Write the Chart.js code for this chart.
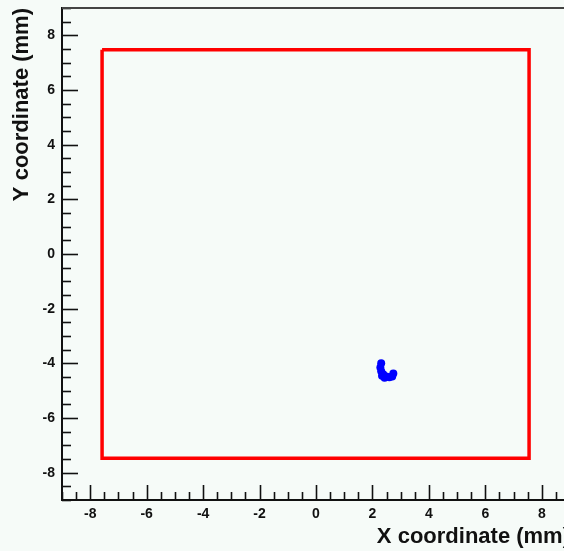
<!DOCTYPE html>
<html lang="en">
<head>
<meta charset="UTF-8">
<title>XY coordinates</title>
<script src="https://cdn.jsdelivr.net/npm/chart.js"></script>
<style>
    html, body { margin: 0; padding: 0; overflow: hidden; background: #f6fbf8; }
    #wrap { width: 580px; height: 551px; }
</style>
</head>
<body>
<div id="wrap"><canvas id="xyChart" width="580" height="551"></canvas></div>
<script>
    // detector outline (mm)
    var frameX = [-7.58, 7.55, 7.55, -7.58, -7.58];
    var frameY = [7.47, 7.47, -7.47, -7.47, 7.47];

    // reconstructed hit positions (mm)
    var hitX = [2.31, 2.28, 2.31, 2.38, 2.49, 2.60, 2.70, 2.74, 2.34, 2.43];
    var hitY = [-4.00, -4.15, -4.29, -4.40, -4.48, -4.51, -4.48, -4.37, -4.45, -4.53];

    var xTicks = [-8, -6, -4, -2, 0, 2, 4, 6, 8];
    var yTicks = [-8, -6, -4, -2, 0, 2, 4, 6, 8];

    function toPoints(xs, ys) {
        var pts = [];
        for (var i = 0; i < xs.length; i++) pts.push({ x: xs[i], y: ys[i] });
        return pts;
    }

    const bgColor = '#f6fbf8';

    // ROOT style frame: inward tick marks + top line
    const rootFrame = {
        id: 'rootFrame',
        beforeDraw(chart) {
            const c = chart.ctx;
            c.save();
            c.fillStyle = bgColor;
            c.fillRect(0, 0, chart.width, chart.height);
            c.restore();
        },
        afterDraw(chart) {
            const c = chart.ctx;
            const a = chart.chartArea;
            const sx = chart.scales.x, sy = chart.scales.y;
            c.save();
            c.strokeStyle = '#111';
            c.lineWidth = 1.6;
            for (var v = -9; v <= 9.001; v += 0.5) {
                var major = Math.abs(v % 2) < 1e-6;
                var px = Math.round(sx.getPixelForValue(v)) + 0.5;
                c.beginPath();
                c.moveTo(px, a.bottom);
                c.lineTo(px, a.bottom - (major ? 15 : 8));
                c.stroke();
                var py = Math.round(sy.getPixelForValue(v)) + 0.5;
                c.beginPath();
                c.moveTo(a.left, py);
                c.lineTo(a.left + (major ? 16 : 9), py);
                c.stroke();
            }
            c.strokeStyle = '#444';
            c.lineWidth = 2;
            c.beginPath();
            c.moveTo(a.left, a.top);
            c.lineTo(a.right, a.top);
            c.stroke();
            c.restore();
        }
    };

    const tickFont = { family: 'Liberation Sans, Arial, sans-serif', size: 14, weight: 'bold' };
    const titleFont = { family: 'Liberation Sans, Arial, sans-serif', size: 22, weight: 'bold', lineHeight: 1.2 };

    new Chart(document.getElementById('xyChart'), {
        type: 'scatter',
        data: {
            datasets: [{
                label: 'frame',
                data: toPoints(frameX, frameY),
                showLine: true,
                borderColor: '#ff0000',
                borderWidth: 3.5,
                pointRadius: 0,
                fill: false
            }, {
                label: 'hits',
                data: toPoints(hitX, hitY),
                backgroundColor: '#0000ff',
                borderColor: '#0000ff',
                borderWidth: 0,
                pointRadius: 4
            }]
        },
        plugins: [rootFrame],
        options: {
            responsive: false,
            animation: false,
            layout: { padding: { left: 0, right: 10, top: 8, bottom: 0 } },
            plugins: {
                legend: { display: false },
                tooltip: { enabled: false }
            },
            scales: {
                x: {
                    type: 'linear',
                    min: -9,
                    max: 9,
                    afterBuildTicks: function (s) { s.ticks = xTicks.map(function (t) { return { value: t }; }); },
                    afterFit: function (s) { s.height = 51; s.paddingLeft = 0; s.paddingRight = 0; },
                    grid: { display: false },
                    border: { display: true, color: '#111', width: 2 },
                    ticks: {
                        color: '#111',
                        font: tickFont,
                        padding: -2,
                        maxRotation: 0,
                        callback: function (v) { return String(v); }
                    },
                    title: {
                        display: true,
                        text: 'X coordinate (mm)',
                        align: 'end',
                        color: '#111',
                        font: titleFont,
                        padding: { top: 0, bottom: 1 }
                    }
                },
                y: {
                    type: 'linear',
                    min: -9,
                    max: 9,
                    afterBuildTicks: function (s) { s.ticks = yTicks.map(function (t) { return { value: t }; }); },
                    afterFit: function (s) { s.width = 62; s.paddingTop = 0; s.paddingBottom = 0; },
                    grid: { display: false },
                    border: { display: true, color: '#111', width: 2 },
                    ticks: {
                        color: '#111',
                        font: tickFont,
                        padding: -1,
                        callback: function (v) { return String(v); }
                    },
                    title: {
                        display: true,
                        text: 'Y coordinate (mm)',
                        align: 'end',
                        color: '#111',
                        font: titleFont,
                        padding: { top: 9, bottom: 0 }
                    }
                }
            }
        }
    });
</script>
</body>
</html>
